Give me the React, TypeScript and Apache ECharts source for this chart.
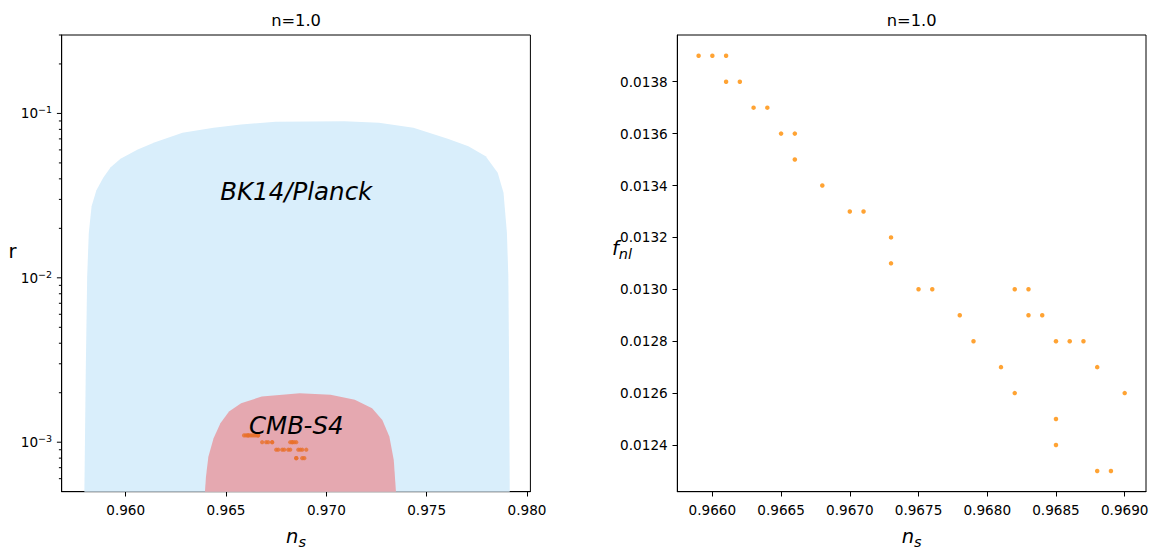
import React, { useEffect, useRef } from "react";
import * as echarts from "echarts";

// ---- data points (ns, r, f_nl) ----
const NS = [
  0.9659, 0.966, 0.9661, 0.9661, 0.9662, 0.9663, 0.9664, 0.9665, 0.9666, 0.9666,
  0.9668, 0.967, 0.9671, 0.9673, 0.9673, 0.9682, 0.9683, 0.9683, 0.9684, 0.9685,
  0.9675, 0.9676, 0.9678, 0.9679, 0.9681, 0.9682, 0.9686, 0.9687, 0.9688, 0.969,
  0.9685, 0.9685, 0.9688, 0.9689,
];
const R = [
  0.0011, 0.0011, 0.0011, 0.0011, 0.0011, 0.0011, 0.0011, 0.0011, 0.0011, 0.0011,
  0.001, 0.001, 0.001, 0.001, 0.001, 0.001, 0.001, 0.001, 0.001, 0.001,
  0.0009, 0.0009, 0.0009, 0.0009, 0.0009, 0.0009, 0.0009, 0.0009, 0.0009, 0.0009,
  0.0008, 0.0008, 0.0008, 0.0008,
];
const FNL = [
  0.0139, 0.0139, 0.0139, 0.0138, 0.0138, 0.0137, 0.0137, 0.0136, 0.0136, 0.0135,
  0.0134, 0.0133, 0.0133, 0.0132, 0.0131, 0.013, 0.013, 0.0129, 0.0129, 0.0128,
  0.013, 0.013, 0.0129, 0.0128, 0.0127, 0.0126, 0.0128, 0.0128, 0.0127, 0.0126,
  0.0125, 0.0124, 0.0123, 0.0123,
];

// ---- BK14/Planck allowed region boundary (ns, r) ----
const BK_NS = [
  0.95794, 0.95801, 0.95808, 0.95816, 0.9583, 0.95854, 0.95888, 0.95925, 0.95974, 0.9606,
  0.96146, 0.96283, 0.96438, 0.96575, 0.96747, 0.9709, 0.97262, 0.97434, 0.97605,
  0.97708, 0.97794, 0.97854, 0.97883, 0.979, 0.97907, 0.97911, 0.97914,
];
const BK_R = [
  0.0005, 0.002757, 0.01021, 0.01876, 0.02724, 0.03406, 0.04058, 0.047, 0.05297, 0.06034,
  0.06685, 0.07625, 0.08182, 0.0857, 0.089, 0.08975, 0.08776, 0.08182, 0.07013,
  0.06323, 0.05494, 0.04352, 0.03287, 0.01876, 0.01021, 0.002757, 0.0005,
];

// ---- CMB-S4 forecast region boundary (ns, r) ----
const S4_NS = [
  0.96395, 0.964, 0.96412, 0.96438, 0.96472, 0.96515, 0.96575, 0.96678, 0.96867,
  0.97021, 0.97142, 0.97228, 0.97279, 0.97314, 0.97336, 0.97347,
];
const S4_R = [
  0.0005, 0.000617, 0.000817, 0.001058, 0.001305, 0.001536, 0.001728, 0.001896,
  0.001988, 0.001942, 0.00181, 0.00161, 0.001367, 0.001082, 0.00078, 0.0005,
];

// ---- annotations ----
const ANNOT_TEXT = ["BK14/Planck", "CMB-S4"];
const ANNOT_NS = [0.9685, 0.9685];
const ANNOT_R = [0.0336, 0.001265];

// ---- axes ----
const LEFT_X_TICKS = [0.96, 0.965, 0.97, 0.975, 0.98];
const LEFT_X_MIN = 0.95681;
const LEFT_X_MAX = 0.98017;
const LEFT_Y_MIN = 0.0005;
const LEFT_Y_MAX = 0.3;
const R_MAJOR_TICKS = [0.001, 0.01, 0.1];
const R_MINOR_TICKS = [
  0.0006, 0.0007, 0.0008, 0.0009, 0.002, 0.003, 0.004, 0.005, 0.006, 0.007, 0.008,
  0.009, 0.02, 0.03, 0.04, 0.05, 0.06, 0.07, 0.08, 0.09, 0.2, 0.3,
];
const RIGHT_X_TICKS = [0.966, 0.9665, 0.967, 0.9675, 0.968, 0.9685, 0.969];
const RIGHT_X_MIN = 0.965745;
const RIGHT_X_MAX = 0.969155;
const RIGHT_Y_TICKS = [0.0124, 0.0126, 0.0128, 0.013, 0.0132, 0.0134, 0.0136, 0.0138];
const RIGHT_Y_MIN = 0.01222;
const RIGHT_Y_MAX = 0.01398;

const TITLES = ["n=1.0", "n=1.0"];
const X_NAME = "{i|n}{sub|s}";
const Y_NAME_LEFT = "r";
const Y_NAME_RIGHT = "{i|f}{sub|nl}";

const FONT = "DejaVu Sans";
const TICK_FS = 13.6;

export default function App() {
  const ref = useRef<HTMLDivElement>(null);

  useEffect(() => {
    if (!ref.current) return;
    const chart = echarts.init(ref.current, undefined, { renderer: "svg" });

    const axisLineStyle = { show: true, onZero: false, lineStyle: { color: "#000", width: 1 } };
    const labelStyle = { color: "#000", fontFamily: FONT, fontSize: TICK_FS };

    const gridL = { left: 61.7, top: 35, width: 468.7, height: 456.7 };
    const gridR = { left: 677.3, top: 35, width: 468.7, height: 456.7 };

    const mathRich = {
      i: { fontFamily: FONT, fontStyle: "italic", fontSize: 19.5, fill: "#000" },
      sub: { fontFamily: FONT, fontStyle: "italic", fontSize: 14.5, fill: "#000", padding: [12, 0, 0, 0] },
    };

    const polygonSeries = (xs: number[], ys: number[], fill: string) => ({
      type: "custom",
      xAxisIndex: 0,
      yAxisIndex: 0,
      silent: true,
      data: [[xs[0], ys[0]]],
      renderItem: (_p: any, api: any) => ({
        type: "polygon",
        shape: { points: xs.map((x, i) => api.coord([x, ys[i]])) },
        style: { fill, stroke: "none" },
      }),
      z: 1,
    });

    const tickData = R_MAJOR_TICKS.map((v) => [LEFT_X_MIN, v, 1]).concat(
      R_MINOR_TICKS.map((v) => [LEFT_X_MIN, v, 0])
    );

    const titleText = (text: string, x: number) => ({
      type: "text",
      x,
      y: 20,
      style: { text, align: "center", verticalAlign: "middle", fontFamily: FONT, fontSize: 16.3, fill: "#000" },
    });

    const option: any = {
      animation: false,
      backgroundColor: "#fff",
      grid: [
        { ...gridL, show: true, borderColor: "#000", borderWidth: 1, backgroundColor: "transparent" },
        { ...gridR, show: true, borderColor: "#000", borderWidth: 1, backgroundColor: "transparent" },
      ],
      graphic: [
        titleText(TITLES[0], 61.7 + 468.7 / 2),
        titleText(TITLES[1], 677.3 + 468.7 / 2),
        {
          type: "text",
          x: 61.7 + 468.7 / 2,
          y: 536,
          style: { text: X_NAME, rich: mathRich, align: "center", verticalAlign: "middle", fill: "#000" },
        },
        {
          type: "text",
          x: 677.3 + 468.7 / 2,
          y: 536,
          style: { text: X_NAME, rich: mathRich, align: "center", verticalAlign: "middle", fill: "#000" },
        },
        {
          type: "text",
          x: 16.5,
          y: 251,
          style: {
            text: Y_NAME_LEFT,
            align: "right",
            verticalAlign: "middle",
            fontFamily: FONT,
            fontSize: 19.5,
            fill: "#000",
          },
        },
        {
          type: "text",
          x: 632,
          y: 248,
          style: { text: Y_NAME_RIGHT, rich: mathRich, align: "right", verticalAlign: "middle", fill: "#000" },
        },
      ],
      xAxis: [
        {
          gridIndex: 0,
          type: "value",
          min: LEFT_X_MIN,
          max: LEFT_X_MAX,
          axisLine: axisLineStyle,
          axisTick: { show: true, length: 4.8, customValues: LEFT_X_TICKS, lineStyle: { color: "#000", width: 1 } },
          axisLabel: {
            ...labelStyle,
            margin: 11,
            customValues: LEFT_X_TICKS,
            formatter: (v: number) => v.toFixed(3),
          },
          splitLine: { show: false },
        },
        {
          gridIndex: 1,
          type: "value",
          min: RIGHT_X_MIN,
          max: RIGHT_X_MAX,
          axisLine: axisLineStyle,
          axisTick: { show: true, length: 4.8, customValues: RIGHT_X_TICKS, lineStyle: { color: "#000", width: 1 } },
          axisLabel: {
            ...labelStyle,
            margin: 11,
            customValues: RIGHT_X_TICKS,
            formatter: (v: number) => v.toFixed(4),
          },
          splitLine: { show: false },
        },
      ],
      yAxis: [
        {
          gridIndex: 0,
          type: "log",
          logBase: 10,
          min: LEFT_Y_MIN,
          max: LEFT_Y_MAX,
          axisLine: axisLineStyle,
          axisTick: { show: false },
          splitLine: { show: false },
          axisLabel: {
            ...labelStyle,
            margin: 9.6,
            formatter: (v: number) => {
              const lg = Math.log10(v);
              const k = Math.round(lg);
              if (Math.abs(lg - k) > 1e-6) return "";
              return "{b|10}{sup|\u2212" + Math.abs(k) + "}";
            },
            rich: {
              b: { fontFamily: FONT, fontSize: TICK_FS, color: "#000" },
              sup: { fontFamily: FONT, fontSize: 9.5, color: "#000", padding: [0, 0, 7, 0] },
            },
          },
        },
        {
          gridIndex: 1,
          type: "value",
          min: RIGHT_Y_MIN,
          max: RIGHT_Y_MAX,
          axisLine: axisLineStyle,
          axisTick: { show: true, length: 4.8, customValues: RIGHT_Y_TICKS, lineStyle: { color: "#000", width: 1 } },
          axisLabel: {
            ...labelStyle,
            margin: 9.6,
            customValues: RIGHT_Y_TICKS,
            formatter: (v: number) => v.toFixed(4),
          },
          splitLine: { show: false },
        },
      ],
      series: [
        polygonSeries(BK_NS, BK_R, "#d9eefb"),
        polygonSeries(S4_NS, S4_R, "#e5a8b0"),
        {
          type: "custom",
          xAxisIndex: 0,
          yAxisIndex: 0,
          silent: true,
          clip: false,
          data: tickData,
          renderItem: (_p: any, api: any) => {
            const p = api.coord([api.value(0), api.value(1)]);
            const len = api.value(2) ? 4.8 : 2.8;
            return {
              type: "line",
              shape: { x1: p[0] - len, y1: p[1], x2: p[0], y2: p[1] },
              style: { stroke: "#000", lineWidth: 1 },
            };
          },
          z: 5,
        },
        {
          type: "scatter",
          xAxisIndex: 0,
          yAxisIndex: 0,
          symbolSize: 4.2,
          itemStyle: { color: "#e8712b" },
          data: NS.map((x, i) => [x, R[i]]),
          z: 3,
        },
        {
          type: "scatter",
          xAxisIndex: 0,
          yAxisIndex: 0,
          symbolSize: 0,
          itemStyle: { color: "#000", opacity: 1 },
          silent: true,
          data: ANNOT_NS.map((x, i) => ({ value: [x, ANNOT_R[i]], name: ANNOT_TEXT[i] })),
          label: {
            show: true,
            position: "inside",
            formatter: (p: any) => p.name,
            fontFamily: FONT,
            fontStyle: "italic",
            fontSize: 24.5,
            color: "#000",
            opacity: 1,
            textBorderWidth: 0,
          },
          z: 4,
        },
        {
          type: "scatter",
          xAxisIndex: 1,
          yAxisIndex: 1,
          symbolSize: 4.5,
          itemStyle: { color: "#ff8c00" },
          data: NS.map((x, i) => [x, FNL[i]]),
        },
      ],
    };

    chart.setOption(option);
    return () => chart.dispose();
  }, []);

  return (
    <div
      ref={ref}
      style={{ position: "absolute", left: 0, top: 0, width: 1156, height: 552 }}
    />
  );
}
